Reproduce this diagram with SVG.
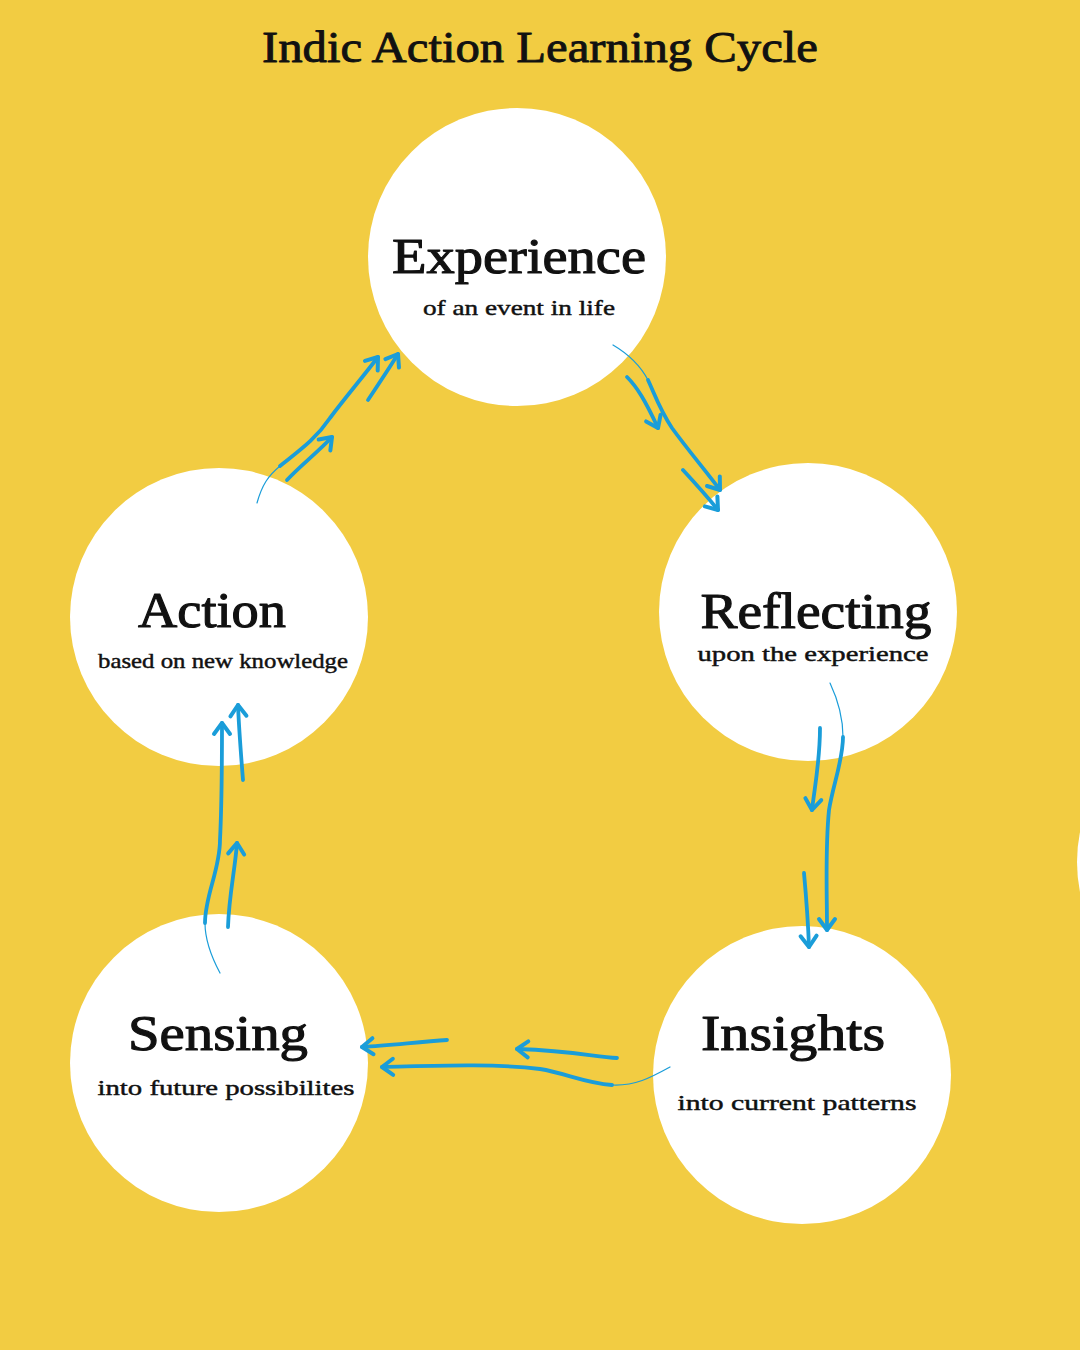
<svg xmlns="http://www.w3.org/2000/svg" width="1080" height="1350" viewBox="0 0 1080 1350">
<defs>
<style>
.bg{fill:#F2CC42}
.node{fill:#FFFFFF}
.t{font-family:"Liberation Serif","DejaVu Serif",serif;fill:#111111;text-anchor:middle;font-weight:normal;stroke:#111111;stroke-linejoin:round}
.title{font-size:44px;stroke-width:0.9}
.head{font-size:50px;stroke-width:1.1}
.sub{font-size:22px;stroke-width:0.45}
.a{fill:none;stroke:#1A9DD9;stroke-linecap:round;stroke-linejoin:round}
.thick{stroke-width:3.8}
.thin{stroke-width:1.2}
</style>
<marker id="ah" markerUnits="userSpaceOnUse" markerWidth="30" markerHeight="30" viewBox="-15 -15 30 30" refX="0" refY="0" orient="auto">
<path d="M -11 -8 L 0 0 L -11 8" fill="none" stroke="#1A9DD9" stroke-width="4" stroke-linecap="round" stroke-linejoin="round"/>
</marker>
</defs>
<rect class="bg" x="0" y="0" width="1080" height="1350"/>
<text class="t title" x="540" y="62" textLength="556" lengthAdjust="spacingAndGlyphs">Indic Action Learning Cycle</text>

<g id="node-partial"><circle class="node" cx="1230" cy="862" r="153"/></g>

<g id="node-experience">
<circle class="node" cx="517" cy="257" r="149"/>
<text class="t head" x="519" y="273" textLength="254" lengthAdjust="spacingAndGlyphs">Experience</text>
<text class="t sub" x="519" y="315" textLength="192" lengthAdjust="spacingAndGlyphs">of an event in life</text>
</g>
<g id="node-reflecting">
<circle class="node" cx="808" cy="612" r="149"/>
<text class="t head" x="816" y="628" textLength="231" lengthAdjust="spacingAndGlyphs">Reflecting</text>
<text class="t sub" x="813" y="661" textLength="231" lengthAdjust="spacingAndGlyphs">upon the experience</text>
</g>
<g id="node-insights">
<circle class="node" cx="802" cy="1075" r="149"/>
<text class="t head" x="793" y="1050" textLength="184" lengthAdjust="spacingAndGlyphs">Insights</text>
<text class="t sub" x="797" y="1110" textLength="239" lengthAdjust="spacingAndGlyphs">into current patterns</text>
</g>
<g id="node-sensing">
<circle class="node" cx="219" cy="1063" r="149"/>
<text class="t head" x="218" y="1050" textLength="180" lengthAdjust="spacingAndGlyphs">Sensing</text>
<text class="t sub" x="226" y="1095" textLength="257" lengthAdjust="spacingAndGlyphs">into future possibilites</text>
</g>
<g id="node-action">
<circle class="node" cx="219" cy="617" r="149"/>
<text class="t head" x="212" y="627" textLength="148" lengthAdjust="spacingAndGlyphs">Action</text>
<text class="t sub" x="223" y="668" textLength="250" lengthAdjust="spacingAndGlyphs">based on new knowledge</text>
</g>

<g id="connectors">
<!-- Action to Experience -->
<path class="a thin" d="M 257 503 C 262 485 268 476 280 466"/>
<path class="a thick" marker-end="url(#ah)" d="M 280 466 C 300 450 315 440 330 418 C 345 398 362 378 378 357"/>
<path class="a thick" marker-end="url(#ah)" d="M 287 480 C 300 466 318 452 332 437"/>
<path class="a thick" marker-end="url(#ah)" d="M 368 400 C 378 385 388 370 398 354"/>
<!-- Experience to Reflecting -->
<path class="a thin" d="M 613 345 C 630 355 640 365 648 380"/>
<path class="a thick" marker-end="url(#ah)" d="M 648 380 C 655 395 660 410 672 428 C 688 450 705 470 720 490"/>
<path class="a thick" marker-end="url(#ah)" d="M 627 377 C 637 387 645 400 658 428"/>
<path class="a thick" marker-end="url(#ah)" d="M 683 470 C 695 483 706 495 718 510"/>
<!-- Reflecting to Insights -->
<path class="a thin" d="M 830 683 C 838 700 843 718 843 737"/>
<path class="a thick" marker-end="url(#ah)" d="M 843 737 C 843 760 833 785 829 810 C 825 850 827 890 827 930"/>
<path class="a thick" marker-end="url(#ah)" d="M 820 728 C 820 760 815 785 812 810"/>
<path class="a thick" marker-end="url(#ah)" d="M 804 873 C 806 895 808 920 809 947"/>
<!-- Insights to Sensing -->
<path class="a thin" d="M 670 1067 C 650 1078 635 1086 612 1085"/>
<path class="a thick" marker-end="url(#ah)" d="M 612 1085 C 585 1083 565 1073 540 1069 C 490 1063 430 1066 382 1067"/>
<path class="a thick" marker-end="url(#ah)" d="M 617 1058 C 595 1057 575 1051 517 1049"/>
<path class="a thick" marker-end="url(#ah)" d="M 447 1040 C 420 1042 390 1045 362 1047"/>
<!-- Sensing to Action -->
<path class="a thin" d="M 220 973 C 212 958 205 940 205 923"/>
<path class="a thick" marker-end="url(#ah)" d="M 205 923 C 205 895 220 870 220 840 C 222 800 222 760 222 723"/>
<path class="a thick" marker-end="url(#ah)" d="M 228 927 C 229 895 235 870 237 843"/>
<path class="a thick" marker-end="url(#ah)" d="M 243 780 C 241 755 239 730 238 705"/>
</g>
</svg>
